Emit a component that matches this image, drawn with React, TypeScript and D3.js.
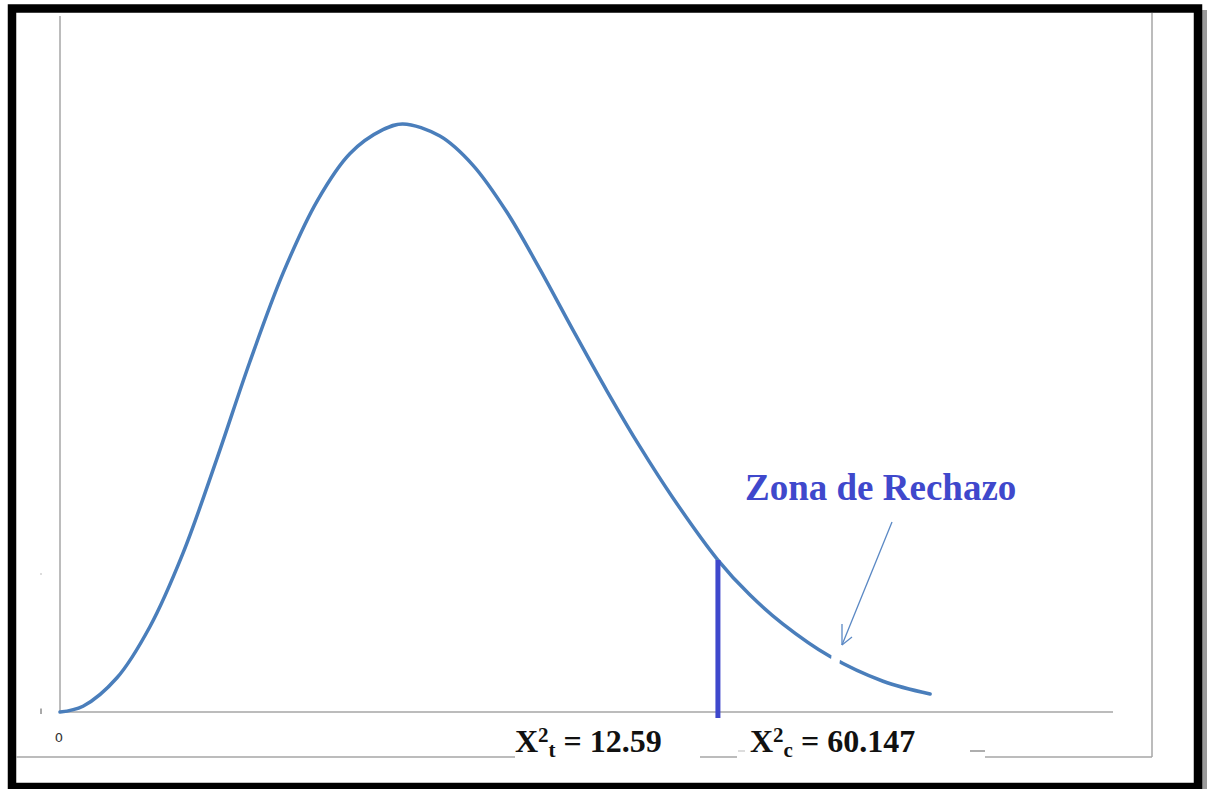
import React from "react";
import * as d3 from "d3";

// Curve: x = chi-square value, y = density
const curveX = [0, 0.44, 1.09, 1.72, 2.35, 3.0, 3.63, 4.27, 4.92, 5.55, 6.18, 6.56, 7.27, 7.9, 8.55, 9.18, 9.82, 10.47, 11.1, 11.73, 12.59, 13.2, 13.83, 14.73, 15.75, 16.65];
const curveY = [0, 0.001, 0.0059, 0.0147, 0.0273, 0.0436, 0.0603, 0.0757, 0.0881, 0.0963, 0.1004, 0.1014, 0.0993, 0.0943, 0.0862, 0.0764, 0.0658, 0.0553, 0.0457, 0.0369, 0.0262, 0.0202, 0.0152, 0.0096, 0.0053, 0.0031];
const criticalValue = 12.59;
const gapX = 14.85; // where the arrow cuts the curve
const xTickLabels = ["0"];
const labelTabla = { sym: "X", sup: "2", sub: "t", rest: " = 12.59" };
const labelCalc = { sym: "X", sup: "2", sub: "c", rest: " = 60.147" };
const zoneLabel = "Zona de Rechazo";

const W = 1210;
const H = 789;

export default function App() {
  const x = d3.scaleLinear().domain([0, 20.15]).range([60, 1113]);
  const y = d3.scaleLinear().domain([0, 0.12]).range([712, 16]);
  const pts: [number, number][] = curveX.map((v, i) => [v, curveY[i]]);
  const line = d3
    .line<[number, number]>()
    .x((d) => x(d[0]))
    .y((d) => y(d[1]))
    .curve(d3.curveCatmullRom.alpha(0.5));
  const path = line(pts) || "";

  const critY = y(curveY[curveX.indexOf(criticalValue)]);
  const gapPx = x(gapX);
  const gi = curveX.findIndex((v) => v > gapX);
  const t = (gapX - curveX[gi - 1]) / (curveX[gi] - curveX[gi - 1]);
  const gapY = y(d3.interpolateNumber(curveY[gi - 1], curveY[gi])(t));

  const serif = "'Liberation Serif', 'Times New Roman', serif";
  const axisColor = "#a6a6a6";
  const blueLine = "#4a7ebb";
  const markBlue = "#3f48cc";

  const renderLabel = (
    lbl: { sym: string; sup: string; sub: string; rest: string },
    x0: number
  ) => (
    <text
      x={x0}
      y={752}
      fontFamily={serif}
      fontWeight="bold"
      fontSize={32}
      fill="#111"
      style={{ whiteSpace: "pre" }}
    >
      <tspan>{lbl.sym}</tspan>
      <tspan fontSize={21} dy={-10}>{lbl.sup}</tspan>
      <tspan fontSize={21} dy={15}>{lbl.sub}</tspan>
      <tspan dy={-5}>{lbl.rest}</tspan>
    </text>
  );

  return (
    <svg
      width={W}
      height={H}
      style={{ position: "absolute", left: 0, top: 0, background: "#fff" }}
    >
      <rect x={0} y={0} width={W} height={H} fill="#fff" />
      {/* frame shadow */}
      <rect x={1202} y={10} width={5} height={H} fill="#9a9a9a" />
      {/* outer frame */}
      <rect
        x={12}
        y={8.5}
        width={1186}
        height={778.5}
        fill="none"
        stroke="#000"
        strokeWidth={8.5}
      />
      {/* inner box lines */}
      <line x1={1152} y1={13} x2={1152} y2={757} stroke={axisColor} strokeWidth={1.5} />
      <line x1={16} y1={757} x2={515} y2={757} stroke={axisColor} strokeWidth={1.5} />
      <line x1={700} y1={757} x2={737} y2={757} stroke={axisColor} strokeWidth={1.5} />
      <line x1={738} y1={751} x2={745} y2={751} stroke="#bbb" strokeWidth={1} />
      <line x1={970} y1={751} x2={985} y2={751} stroke="#777" strokeWidth={1.2} />
      <line x1={985} y1={757} x2={1152} y2={757} stroke={axisColor} strokeWidth={1.5} />

      {/* axes */}
      <line x1={x(0)} y1={16} x2={x(0)} y2={y(0)} stroke={axisColor} strokeWidth={1.5} />
      <line x1={x(0)} y1={y(0)} x2={x(20.15)} y2={y(0)} stroke={axisColor} strokeWidth={1.5} />
      {/* tiny y tick marks */}
      <line x1={41} y1={708.5} x2={41} y2={714} stroke="#555" strokeWidth={1} />
      <rect x={40.5} y={573.5} width={1} height={1} fill="#777" />
      {xTickLabels.map((l) => (
        <text
          key={l}
          x={x(0) - 1}
          y={742}
          textAnchor="middle"
          fontFamily="'DejaVu Sans', Arial, sans-serif"
          fontSize={13}
          fill="#333"
        >
          {l}
        </text>
      ))}

      {/* curve */}
      <path d={path} fill="none" stroke={blueLine} strokeWidth={3.5} strokeLinecap="round" />
      {/* gap in the curve */}
      <line
        x1={gapPx + 1}
        y1={gapY - 10}
        x2={gapPx - 2}
        y2={gapY + 10}
        stroke="#fff"
        strokeWidth={9}
      />

      {/* critical value line */}
      <line
        x1={x(criticalValue)}
        y1={critY}
        x2={x(criticalValue)}
        y2={718}
        stroke={markBlue}
        strokeWidth={5}
      />

      {/* arrow */}
      <g stroke="#5a88c4" strokeWidth={1.3} fill="none">
        <line x1={892} y1={522} x2={842} y2={645} />
        <line x1={842} y1={645} x2={842} y2={624} />
        <line x1={842} y1={645} x2={852} y2={637} />
      </g>

      {/* zone label */}
      <text
        x={745}
        y={500}
        fontFamily={serif}
        fontWeight="bold"
        fontSize={37}
        fill={markBlue}
      >
        {zoneLabel}
      </text>

      {renderLabel(labelTabla, 515)}
      {renderLabel(labelCalc, 750)}
    </svg>
  );
}
